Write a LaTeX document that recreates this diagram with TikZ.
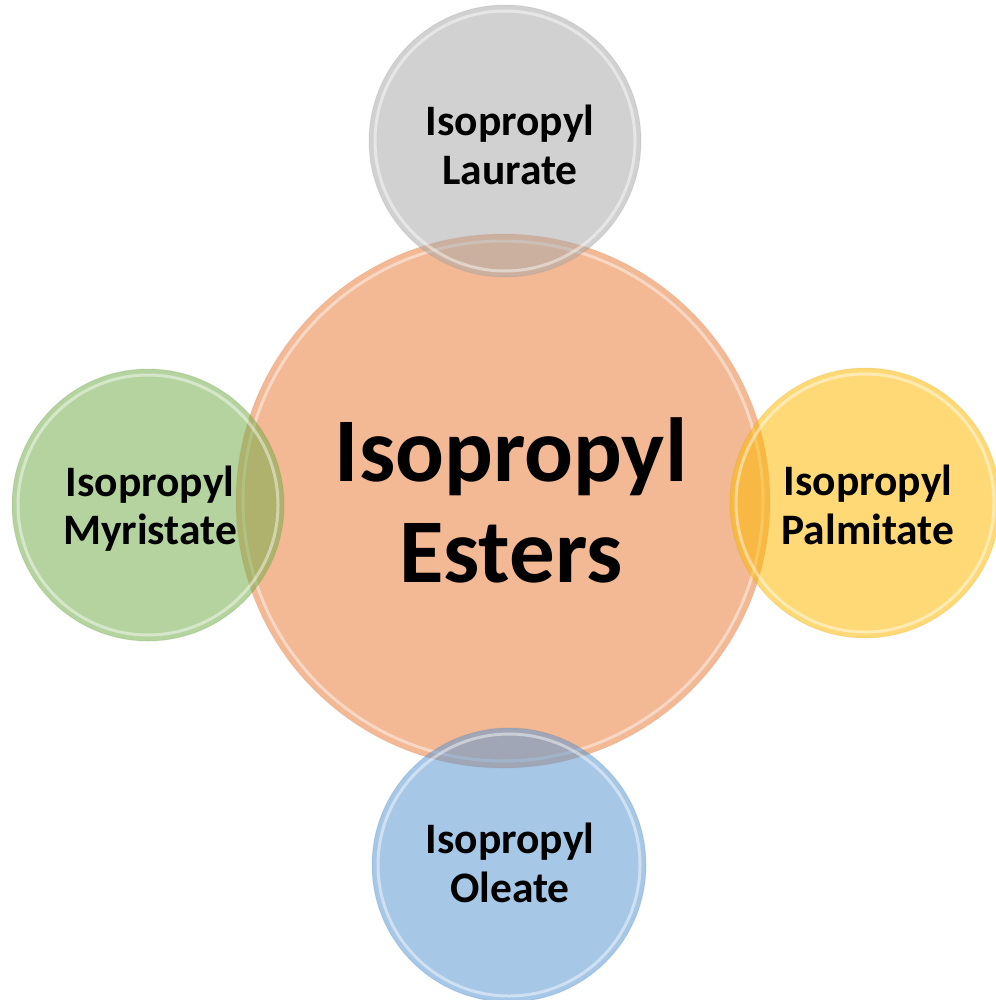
\documentclass[tikz,border=0pt]{standalone}
\usepackage{fontspec}
\setmainfont{Carlito}
\definecolor{cOrange}{RGB}{243,184,148}
\definecolor{cGray}{RGB}{170,170,170}
\definecolor{cGreen}{RGB}{116,174,75}
\definecolor{cYellow}{RGB}{253,185,2}
\definecolor{cBlue}{RGB}{90,151,209}
\begin{document}
\begin{tikzpicture}[x=1pt,y=-1pt,
  ball/.style={circle, inner sep=0pt, draw=#1!80!black, draw opacity=0.15, line width=1pt, fill=#1},
  glass/.style={fill opacity=0.54},
  rim/.style={draw=white, opacity=0.45, line width=3pt},
  small/.style={font=\bfseries\fontsize{43.5}{48.3}\selectfont, align=center, text=black},
  big/.style={font=\bfseries\fontsize{91}{101}\selectfont, align=center, text=black}]
\useasboundingbox (0,0) rectangle (995,1000);
\node[ball=cOrange, minimum size=534pt] (core) at (503,501) {};
\draw[rim] (core.center) circle (260pt);
\node[ball=cGray, glass, minimum size=272pt] (laur) at (505,141) {};
\node[ball=cGreen, glass, minimum size=272pt] (myri) at (148,505) {};
\node[ball=cYellow, glass, minimum size=270pt] (palm) at (865,503) {};
\node[ball=cBlue, glass, minimum size=274pt] (olea) at (509,865) {};
\draw[rim] (laur.center) circle (130pt);
\draw[rim] (myri.center) circle (130pt);
\draw[rim] (palm.center) circle (129pt);
\draw[rim] (olea.center) circle (131pt);
\node[big] (coret) at (511,500) {Isopropyl\\Esters};
\node[small] (laurt) at (510,145) {Isopropyl\\Laurate};
\node[small] (myrit) at (150,509) {Isopropyl\\Myristate};
\node[small] (palmt) at (868,505) {Isopropyl\\Palmitate};
\node[small] (oleat) at (510,863) {Isopropyl\\Oleate};
\end{tikzpicture}
\end{document}
